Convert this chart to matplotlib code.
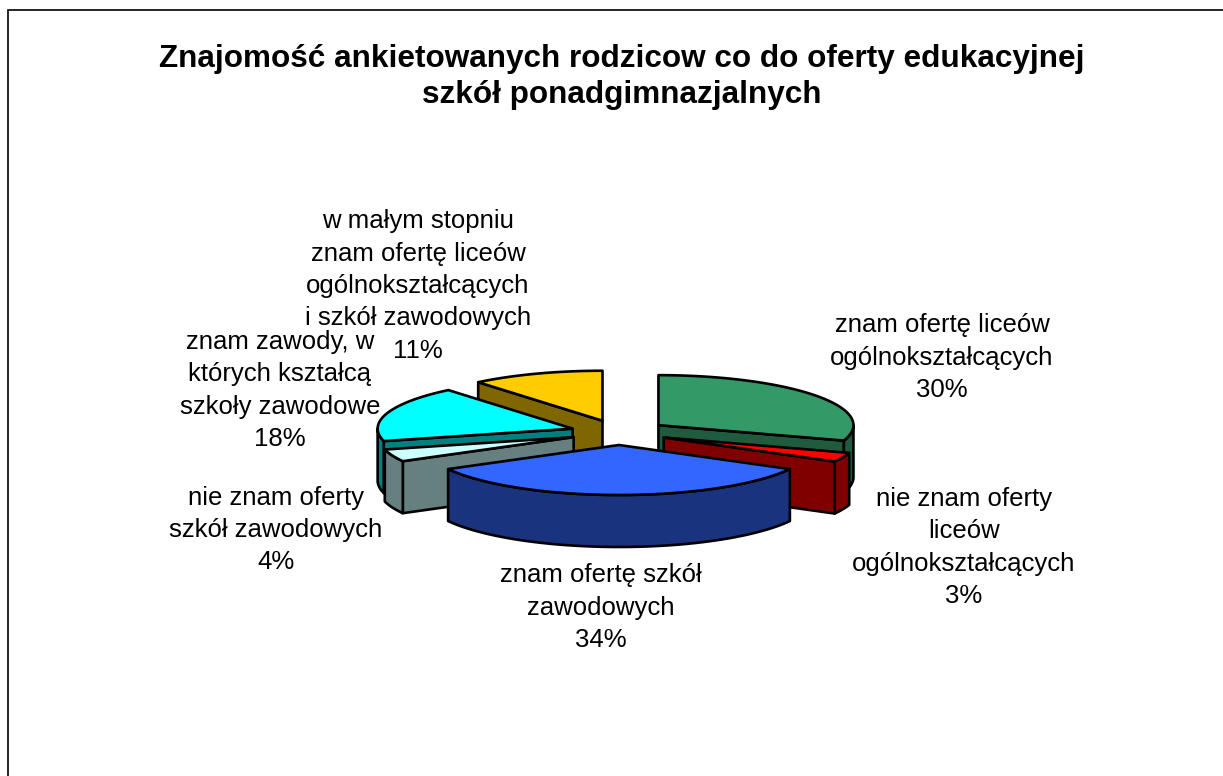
import numpy as np
import matplotlib
matplotlib.use('Agg')
import matplotlib.pyplot as plt
from matplotlib.patches import Polygon

plt.rcParams['font.family'] = ['Liberation Sans', 'DejaVu Sans']

title = 'Znajomość ankietowanych rodzicow co do oferty edukacyjnej\nszkół ponadgimnazjalnych'

# values in percent, clockwise from 12 o'clock
values = [30, 3, 34, 4, 18, 11]
top_colors = ['#339966', '#ff0000', '#3366ff', '#ccffff', '#00ffff', '#ffcc00']
side_colors = ['#1f5c3e', '#800000', '#1a337f', '#668080', '#008080', '#806600']
labels = ['znam ofertę liceów\nogólnokształcących\n30%',
          'nie znam oferty\nliceów\nogólnokształcących\n3%',
          'znam ofertę szkół\nzawodowych\n34%',
          'nie znam oferty\nszkół zawodowych\n4%',
          'znam zawody, w\nktórych kształcą\nszkoły zawodowe\n18%',
          'w małym stopniu\nznam ofertę liceów\nogólnokształcących\ni szkół zawodowych\n11%']
label_x = [942, 964, 601, 276, 280, 418]
label_y = [357.5, 547.5, 607.5, 530, 390.5, 286]

# pie geometry in pixels
cx, cy = 619, 432.5
rx, ry = 195, 50
depth = 52
explode = 0.25
lw = 1.9

fig = plt.figure(figsize=(12.23, 7.76), dpi=100)
ax = fig.add_axes([0, 0, 1, 1])
ax.set_xlim(0, 1223)
ax.set_ylim(776, 0)
ax.axis('off')

# chart area frame, only the left and top edges are in the picture
ax.plot([8, 8, 1223], [776, 10, 10], color='black', lw=1.2, solid_joinstyle='miter')


def rim_points(ox, oy, angles):
    return np.column_stack([ox + rx * np.sin(angles), oy - ry * np.cos(angles)])


edges = np.radians(np.cumsum([0] + values) * 3.6)
mids = (edges[:-1] + edges[1:]) / 2

# far slices first
for i in np.argsort(-np.cos(mids)):
    a0, a1 = edges[i], edges[i + 1]
    ox = cx + explode * rx * np.sin(mids[i])
    oy = cy - explode * ry * np.cos(mids[i])
    down = np.array([0, depth])
    apex = np.array([ox, oy])
    style = dict(facecolor=side_colors[i], edgecolor='black', lw=lw, joinstyle='round')

    # cut faces that look towards the viewer
    for a, normal in [(a0, a0 - np.pi / 2), (a1, a1 + np.pi / 2)]:
        if np.cos(normal) < -1e-6:
            p = rim_points(ox, oy, np.array([a]))[0]
            ax.add_patch(Polygon([apex, p, p + down, apex + down], **style))

    # outer wall, only the near half of the circle shows
    lo, hi = max(a0, np.pi / 2), min(a1, 3 * np.pi / 2)
    if hi > lo:
        arc = rim_points(ox, oy, np.linspace(lo, hi, 60))
        ax.add_patch(Polygon(np.vstack([arc, arc[::-1] + down]), **style))

    arc = rim_points(ox, oy, np.linspace(a0, a1, 120))
    ax.add_patch(Polygon(np.vstack([apex, arc]), facecolor=top_colors[i],
                         edgecolor='black', lw=lw, joinstyle='round'))

ax.text(622, 77, title, ha='center', va='center', fontsize=22.7, fontweight='bold',
        linespacing=1.25, color='black')

for text, x, y in zip(labels, label_x, label_y):
    ax.text(x, y, text, ha='center', va='center', fontsize=18.5, linespacing=1.44, color='black')

fig.savefig('out.png', dpi=100)
